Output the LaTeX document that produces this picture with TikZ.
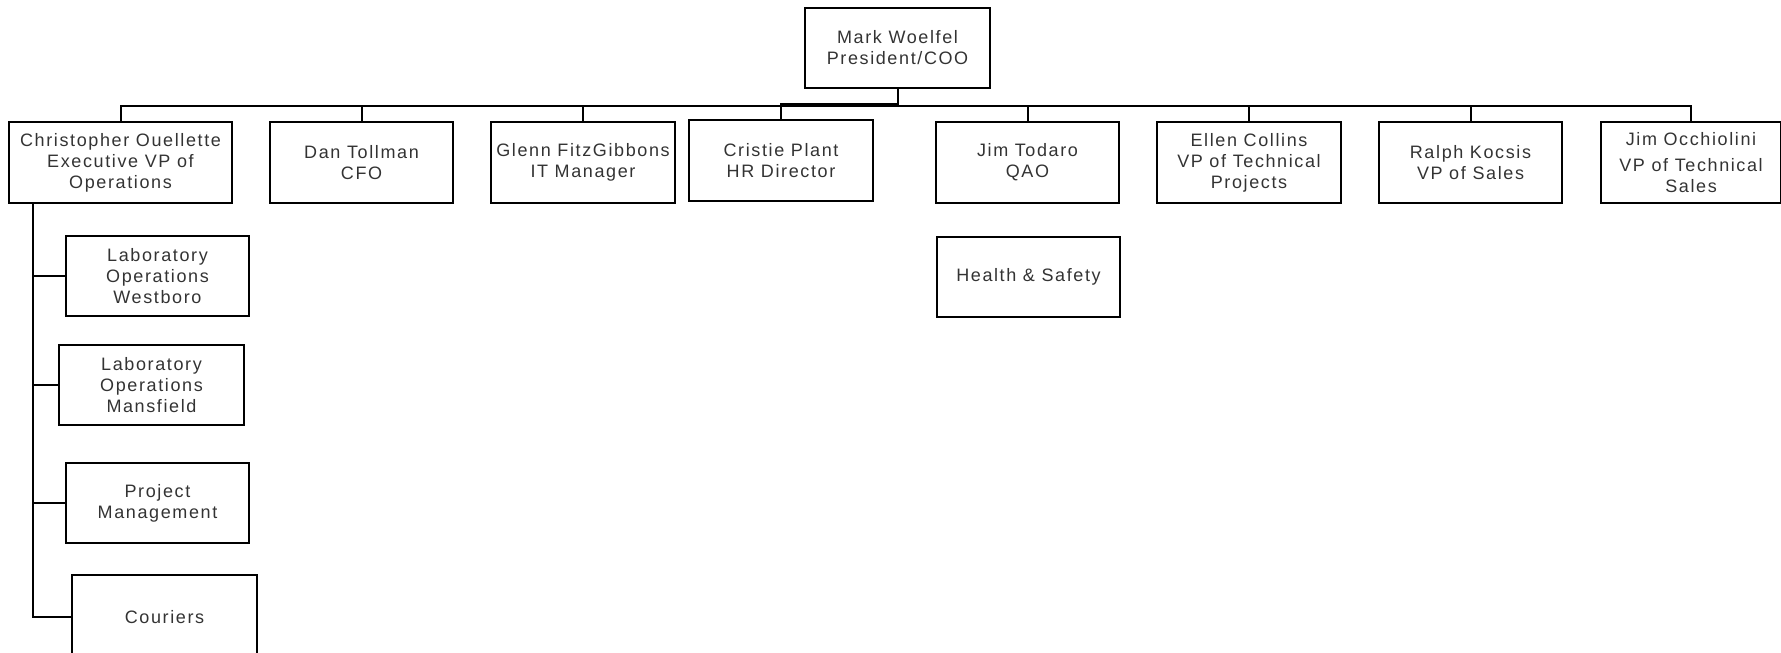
\documentclass[tikz,border=0pt]{standalone}
\usepackage{fontspec}
\setmainfont{Liberation Sans}[LetterSpace=9]
\begin{document}
\begin{tikzpicture}[x=1pt,y=-1pt,
  box/.style={draw, line width=2pt, minimum width=183pt, minimum height=81pt,
    inner sep=0pt, align=center, text=black!80,
    font=\fontsize{18}{21}\selectfont},
  link/.style={line width=2pt}]
\clip (0,0) rectangle (1781,653);
% top
\node[box, minimum width=185pt, minimum height=80pt] (mark) at (897.5,48) {Mark Woelfel\\President/COO};
% second level
\node[box, minimum width=223pt] (chris) at (120.5,162.5) {Christopher Ouellette\\Executive VP of\\Operations};
\node[box] (dan) at (361.5,162.5) {Dan Tollman\\CFO};
\node[box, minimum width=184pt] (glenn) at (583,162.5) {Glenn FitzGibbons\\IT Manager};
\node[box, minimum width=184pt] (cristie) at (781,160.5) {Cristie Plant\\HR Director};
\node[box] (jimt) at (1027.5,162.5) {Jim Todaro\\QAO};
\node[box, minimum width=184pt] (ellen) at (1249,162.5) {Ellen Collins\\VP of Technical\\Projects};
\node[box] (ralph) at (1470.5,162.5) {Ralph Kocsis\\VP of Sales};
\node[box, minimum width=180pt] (occ) at (1691,162.5) {Jim Occhiolini\\[5pt]VP of Technical\\Sales};
\node[box, minimum height=80pt] (health) at (1028.5,277) {Health \& Safety};
% operations
\node[box, minimum height=80pt] (westboro) at (157.5,276) {Laboratory\\Operations\\Westboro};
\node[box, minimum width=185pt, minimum height=80pt] (mansfield) at (151.5,385) {Laboratory\\Operations\\Mansfield};
\node[box, minimum height=80pt] (projmgmt) at (157.5,503) {Project\\Management};
\node[box, minimum width=185pt, minimum height=84pt] (couriers) at (164.5,617) {Couriers};
\coordinate (bus) at (0,106);
\coordinate (bend) at (0,104);
\coordinate (spine) at (33,0);
% connectors
\draw[link] (mark.south) -- (mark.south |- bus);
\draw[link] (mark.south) |- (cristie.north |- bend) -- (cristie.north);
\draw[link] (chris.north) -- (chris.north |- bus) -- (occ.north |- bus) -- (occ.north);
\draw[link] (dan.north) -- (dan.north |- bus);
\draw[link] (glenn.north) -- (glenn.north |- bus);
\draw[link] (jimt.north) -- (jimt.north |- bus);
\draw[link] (ellen.north) -- (ellen.north |- bus);
\draw[link] (ralph.north) -- (ralph.north |- bus);
\draw[link] (chris.south -| spine) -- (spine |- couriers.west) -- (couriers.west);
\draw[link] (spine |- westboro.west) -- (westboro.west);
\draw[link] (spine |- mansfield.west) -- (mansfield.west);
\draw[link] (spine |- projmgmt.west) -- (projmgmt.west);
\end{tikzpicture}
\end{document}
